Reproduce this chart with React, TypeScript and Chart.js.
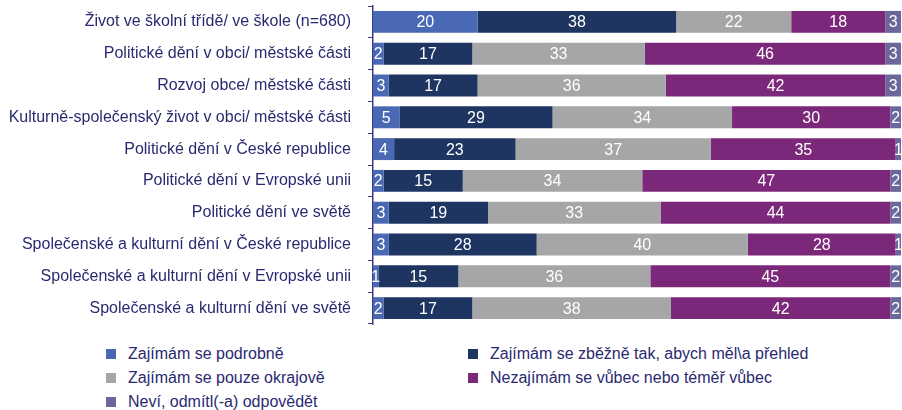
import React, { useEffect, useRef } from "react";
import { Chart, registerables } from "chart.js";

Chart.register(...registerables);

const categories = [
  "Život ve školní třídě/ ve škole (n=680)",
  "Politické dění v obci/ městské části",
  "Rozvoj obce/ městské části",
  "Kulturně-společenský život v obci/ městské části",
  "Politické dění v České republice",
  "Politické dění v Evropské unii",
  "Politické dění ve světě",
  "Společenské a kulturní dění v České republice",
  "Společenské a kulturní dění v Evropské unii",
  "Společenské a kulturní dění ve světě",
];

const seriesNames = [
  "Zajímám se podrobně",
  "Zajímám se zběžně tak, abych měl\\a přehled",
  "Zajímám se pouze okrajově",
  "Nezajímám se vůbec nebo téměř vůbec",
  "Neví, odmítl(-a) odpovědět",
];

const podrobne = [20, 2, 3, 5, 4, 2, 3, 3, 1, 2];
const zbezne = [38, 17, 17, 29, 23, 15, 19, 28, 15, 17];
const okrajove = [22, 33, 36, 34, 37, 34, 33, 40, 36, 38];
const nezajimam = [18, 46, 42, 30, 35, 47, 44, 28, 45, 42];
const nevi = [3, 3, 3, 2, 1, 2, 2, 1, 2, 2];

const colors = ["#4a69b4", "#1e3562", "#a6a6a8", "#7c287a", "#6a689b"];
const textColor = "#2a2a70";
const axisColor = "#3a3a80";
const FONT = "'Liberation Sans', Arial, sans-serif";

export default function App() {
  const ref = useRef<HTMLCanvasElement | null>(null);

  useEffect(() => {
    if (!ref.current) return;
    const raw = [podrobne, zbezne, okrajove, nezajimam, nevi];
    const totals = categories.map((_, i) => raw.reduce((s, arr) => s + arr[i], 0));

    const labelPlugin = {
      id: "segLabels",
      afterDatasetsDraw(chart: any) {
        const ctx = chart.ctx;
        ctx.save();
        ctx.font = `16px ${FONT}`;
        ctx.fillStyle = "#ffffff";
        ctx.textAlign = "center";
        ctx.textBaseline = "middle";
        chart.data.datasets.forEach((ds: any, di: number) => {
          const meta = chart.getDatasetMeta(di);
          meta.data.forEach((el: any, i: number) => {
            const v = ds.rawValues[i];
            const cx = (el.x + el.base) / 2;
            ctx.fillText(String(v), cx, el.y + 1);
          });
        });
        ctx.restore();
      },
    };

    const chart = new Chart(ref.current, {
      type: "bar",
      data: {
        labels: categories,
        datasets: raw.map((arr, di) => ({
          label: seriesNames[di],
          data: arr.map((v, i) => (v / totals[i]) * 100),
          rawValues: arr,
          backgroundColor: colors[di],
          borderWidth: 0,
          barPercentage: 0.69,
          categoryPercentage: 1,
        })) as any,
      },
      options: {
        indexAxis: "y",
        animation: false,
        responsive: false,
        maintainAspectRatio: false,
        layout: { padding: { top: 6, bottom: 6, left: 0, right: 1 } },
        plugins: {
          legend: { display: false },
          tooltip: { enabled: false },
        },
        scales: {
          x: {
            stacked: true,
            display: false,
            min: 0,
            max: 100,
          },
          y: {
            stacked: true,
            afterFit(scale: any) {
              scale.width = 373;
              scale.paddingTop = 0;
              scale.paddingBottom = 0;
            },
            grid: {
              drawOnChartArea: false,
              offset: true,
              tickLength: 5,
              color: axisColor,
              lineWidth: 1,
            },
            border: { display: true, color: axisColor, width: 1.5 },
            ticks: {
              padding: 17,
              color: textColor,
              font: { family: FONT, size: 16 },
            },
          },
        },
      },
      plugins: [labelPlugin],
    });
    return () => chart.destroy();
  }, []);

  const legendItems = [
    { name: seriesNames[0], color: colors[0], left: 106, row: 0 },
    { name: seriesNames[1], color: colors[1], left: 468, row: 0 },
    { name: seriesNames[2], color: colors[2], left: 106, row: 1 },
    { name: seriesNames[3], color: colors[3], left: 468, row: 1 },
    { name: seriesNames[4], color: colors[4], left: 106, row: 2 },
  ];

  return (
    <div style={{ position: "absolute", left: 0, top: 0, width: 902, height: 410, overflow: "hidden", background: "#fff" }}>
      <canvas ref={ref} width={902} height={330} style={{ display: "block", width: 902, height: 330 }} />
      {legendItems.map((it, i) => (
        <div
          key={i}
          style={{
            position: "absolute",
            left: it.left,
            top: 342 + it.row * 24,
            height: 24,
            display: "flex",
            alignItems: "center",
            fontFamily: FONT,
            fontSize: 16,
            color: textColor,
            whiteSpace: "nowrap",
          }}
        >
          <span style={{ display: "inline-block", width: 10, height: 10, background: it.color, marginRight: 12 }} />
          <span>{it.name}</span>
        </div>
      ))}
    </div>
  );
}
